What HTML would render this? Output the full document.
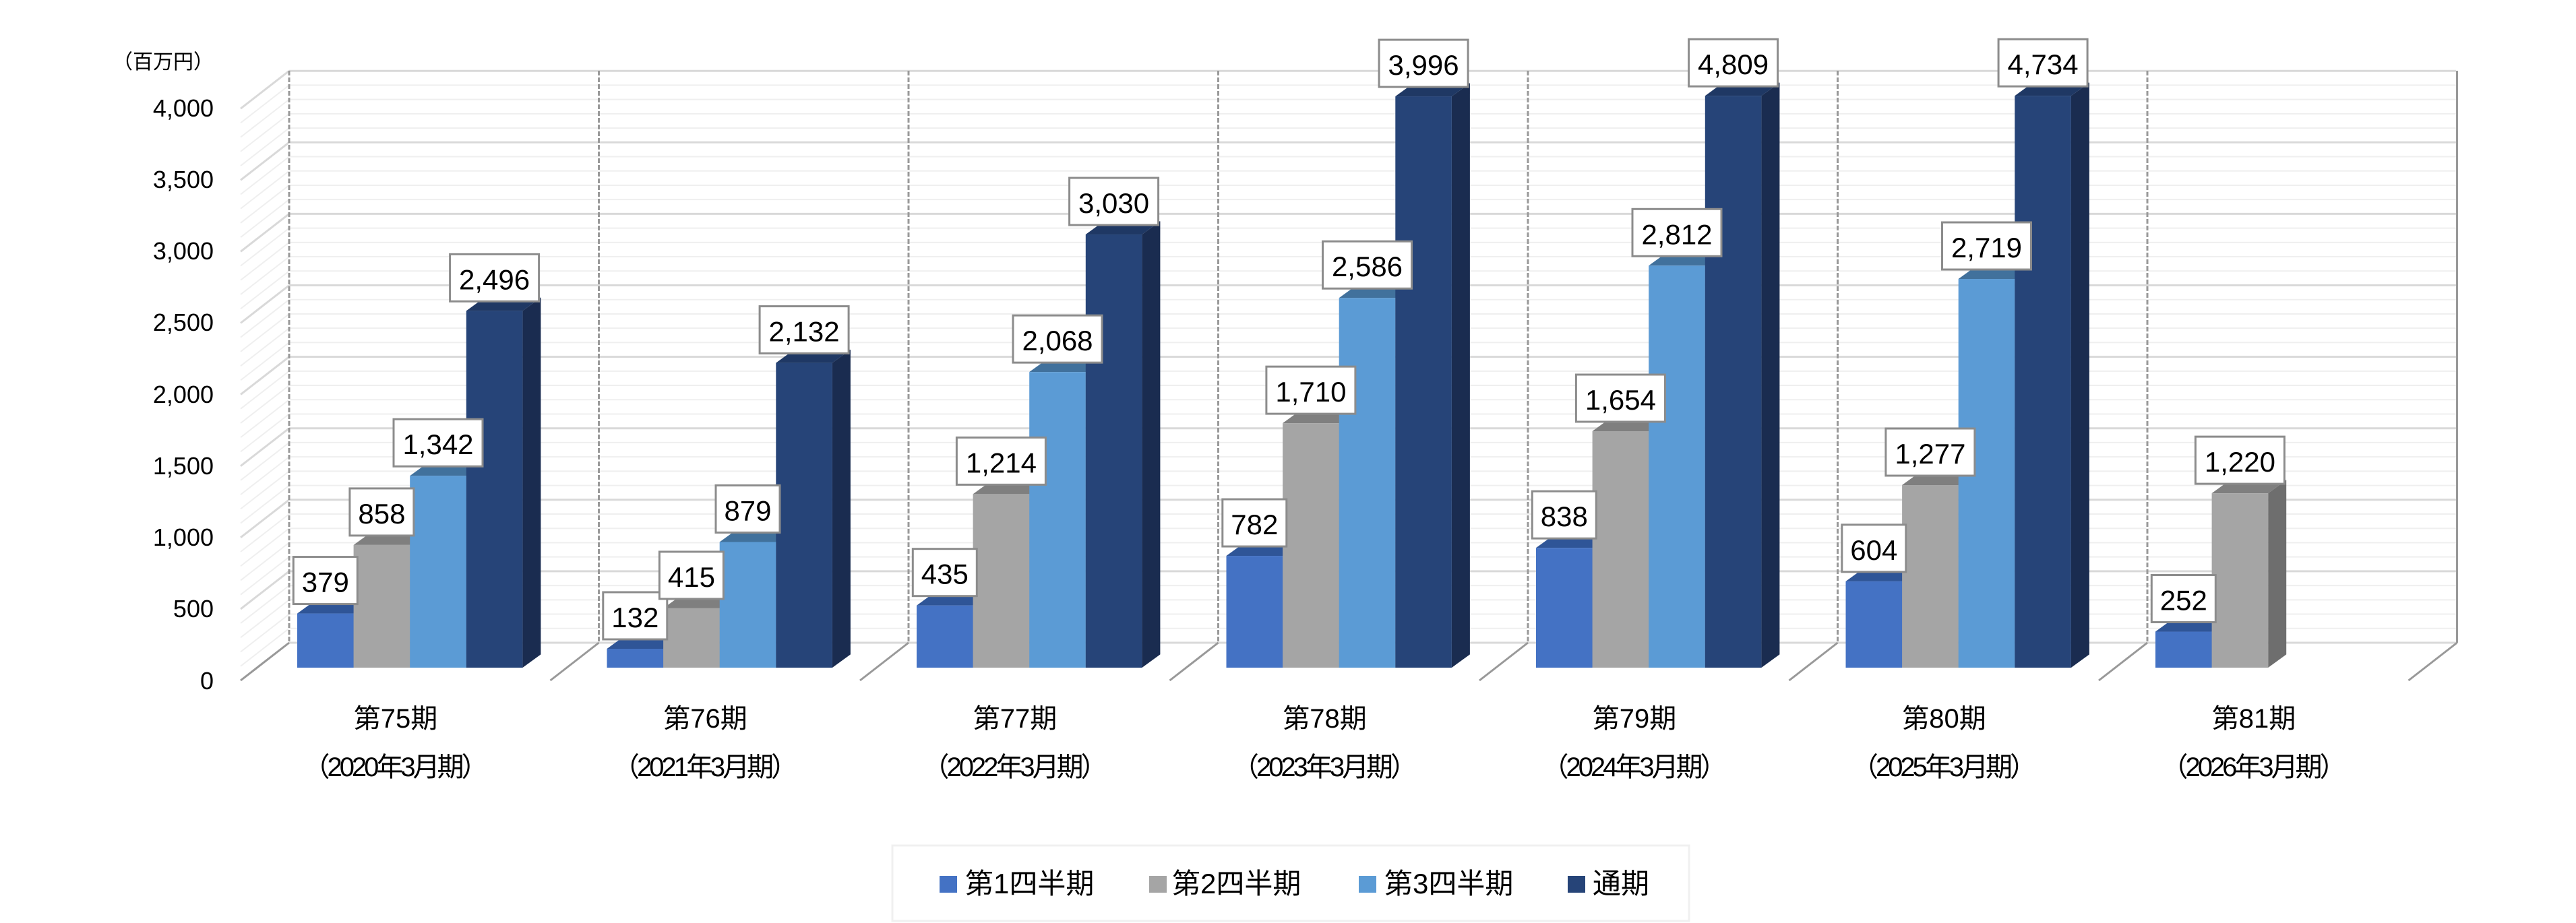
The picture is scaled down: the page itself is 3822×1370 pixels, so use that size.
<!DOCTYPE html>
<html><head><meta charset="utf-8"><style>
html,body{margin:0;padding:0;background:#fff;}
svg{display:block;}
text{font-family:"Liberation Sans","Noto Sans CJK JP",sans-serif;fill:#000;}
</style></head><body>
<svg id="s" width="3822" height="1370" viewBox="0 0 3822 1370" xmlns="http://www.w3.org/2000/svg">
<g id="geo"></g>
<g id="boxes"></g>
<g font-size="36" text-anchor="end">
<text x="317" y="102" font-size="30">（百万円）</text>
<text x="317" y="173">4,000</text>
<text x="317" y="279">3,500</text>
<text x="317" y="385">3,000</text>
<text x="317" y="491">2,500</text>
<text x="317" y="598">2,000</text>
<text x="317" y="704">1,500</text>
<text x="317" y="810">1,000</text>
<text x="317" y="916">500</text>
<text x="317" y="1023">0</text>
</g>
<g font-size="42" text-anchor="middle">
<text x="482.8" y="878.6">379</text><text x="566.4" y="776.9">858</text><text x="650" y="674.2">1,342</text><text x="733.6" y="429.3">2,496</text>
<text x="942.3" y="931">132</text><text x="1025.9" y="870.9">415</text><text x="1109.5" y="772.5">879</text><text x="1193.1" y="506.6">2,132</text>
<text x="1401.8" y="866.7">435</text><text x="1485.4" y="701.4">1,214</text><text x="1569" y="520.2">2,068</text><text x="1652.6" y="316">3,030</text>
<text x="1861.3" y="793.1">782</text><text x="1944.9" y="596.1">1,710</text><text x="2028.5" y="410.2">2,586</text><text x="2112.1" y="111">3,996</text>
<text x="2320.8" y="781.2">838</text><text x="2404.4" y="608">1,654</text><text x="2488" y="362.3">2,812</text><text x="2571.6" y="110.2">4,809</text>
<text x="2780.3" y="830.8">604</text><text x="2863.9" y="688">1,277</text><text x="2947.5" y="382">2,719</text><text x="3031.1" y="110.2">4,734</text>
<text x="3239.8" y="905.5">252</text><text x="3323.4" y="700.1">1,220</text>
</g>
<g font-size="40" text-anchor="middle">
<text x="587" y="1080">第75期</text><text x="587" y="1152" textLength="275">（2020年3月期）</text>
<text x="1046.5" y="1080">第76期</text><text x="1046.5" y="1152" textLength="275">（2021年3月期）</text>
<text x="1506" y="1080">第77期</text><text x="1506" y="1152" textLength="275">（2022年3月期）</text>
<text x="1965.5" y="1080">第78期</text><text x="1965.5" y="1152" textLength="275">（2023年3月期）</text>
<text x="2425" y="1080">第79期</text><text x="2425" y="1152" textLength="275">（2024年3月期）</text>
<text x="2884.5" y="1080">第80期</text><text x="2884.5" y="1152" textLength="275">（2025年3月期）</text>
<text x="3344" y="1080">第81期</text><text x="3344" y="1152" textLength="275">（2026年3月期）</text>
</g>
<rect x="1324" y="1255" width="1182" height="112" fill="#fff" stroke="#F0F0F0" stroke-width="3"/>
<rect x="1394" y="1300" width="26" height="25" fill="#4472C4"/>
<rect x="1705" y="1300" width="26" height="25" fill="#A5A5A5"/>
<rect x="2016" y="1300" width="26" height="25" fill="#5B9BD5"/>
<rect x="2326" y="1300" width="26" height="25" fill="#264478"/>
<g font-size="42">
<text x="1432" y="1326">第1四半期</text>
<text x="1739" y="1326">第2四半期</text>
<text x="2054" y="1326">第3四半期</text>
<text x="2363" y="1326">通期</text>
</g>
</svg>
<script>
(function(){
var NS="http://www.w3.org/2000/svg";
var geo=document.getElementById("geo"),bx=document.getElementById("boxes");
function el(p,tag,a){var e=document.createElementNS(NS,tag);for(var k in a)e.setAttribute(k,a[k]);p.appendChild(e);return e;}
var K=0.2122,CW=459.5;
for(var v=0;v<=4000;v+=100){
 var maj=v%500==0;var yb=954-v*K,yf=1010-v*K;
 var c=maj?"#D9D9D9":"#EFEFEF",w=maj?3:2;
 el(geo,"line",{x1:429,y1:yb,x2:3644,y2:yb,stroke:c,"stroke-width":w});
 el(geo,"line",{x1:357,y1:yf,x2:429,y2:yb,stroke:c,"stroke-width":w});
}
for(var g=0;g<=7;g++){
 var x=429+CW*g;
 el(geo,"line",{x1:x,y1:105,x2:x,y2:954,stroke:"#999","stroke-width":3,"stroke-dasharray":g==7?"none":"7,3"});
 el(geo,"line",{x1:x-72,y1:1010,x2:x,y2:954,stroke:"#999","stroke-width":3});
}
var data=[[379,858,1342,2496],[132,415,879,2132],[435,1214,2068,3030],[782,1710,2586,3996],[838,1654,2812,4809],[604,1277,2719,4734],[252,1220]];
var front=["#4472C4","#A5A5A5","#5B9BD5","#264478"],top_=["#2F5597","#7F7F7F","#41719C","#1F3864"],side=["#2F5597","#6E6E6E","#41719C","#1A2C50"];
var W=83.6,DX=27,DY=19.6,B=991;
for(var g=0;g<data.length;g++){
 for(var i=0;i<data[g].length;i++){
  var v=Math.min(data[g][i],4000),x=441+CW*g+W*i,t=B-v*K;
  el(geo,"polygon",{points:[x+W,B,x+W+DX,B-DY,x+W+DX,t-DY,x+W,t].join(","),fill:side[i]});
  el(geo,"polygon",{points:[x,t,x+W,t,x+W+DX,t-DY,x+DX,t-DY].join(","),fill:top_[i]});
  el(geo,"rect",{x:x,y:t,width:W,height:B-t,fill:front[i]});
  var bw=data[g][i]>=1000?132:95;
  el(bx,"rect",{x:x+W/2-bw/2,y:t-84,width:bw,height:70,fill:"#fff",stroke:"#8C8C8C","stroke-width":3});
 }
}
})();
</script>
</body></html>
